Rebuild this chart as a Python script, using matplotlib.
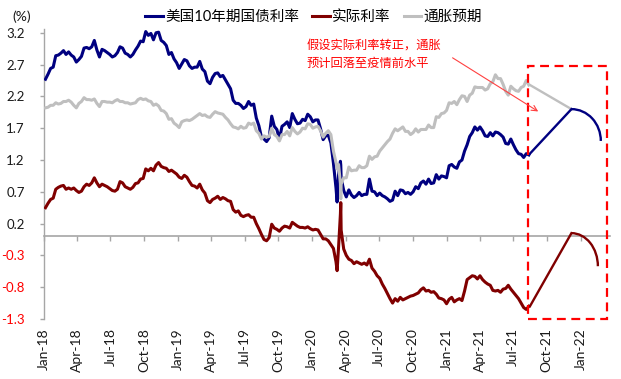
import matplotlib
matplotlib.use('Agg')
import matplotlib.pyplot as plt
import matplotlib.dates as mdates
from matplotlib.patches import Arc, Rectangle
import numpy as np
import pandas as pd

plt.rcParams['font.family'] = ['Lato', 'Noto Sans CJK SC', 'DejaVu Sans']

# ---------------- data ----------------
week_start = '2018-01-05'
week_end = '2021-08-13'

us10y = [
    2.47, 2.55, 2.64, 2.66, 2.84, 2.85, 2.88, 2.92, 2.86, 2.90, 2.85, 2.82, 2.74, 2.78, 2.83, 2.96,
    2.97, 2.95, 2.98, 3.08, 2.93, 2.82, 2.94, 2.92, 2.89, 2.86, 2.82, 2.84, 2.89, 2.98, 2.96, 2.88,
    2.86, 2.82, 2.86, 2.93, 2.99, 3.07, 3.06, 3.22, 3.16, 3.19, 3.09, 3.20, 3.21, 3.08, 3.05, 3.00,
    2.86, 2.89, 2.79, 2.73,
    2.64, 2.71, 2.78, 2.76, 2.68, 2.64, 2.66, 2.66, 2.75, 2.63, 2.59, 2.44, 2.40, 2.50, 2.56, 2.57,
    2.51, 2.53, 2.46, 2.39, 2.32, 2.14, 2.09, 2.09, 2.06, 2.01, 2.04, 2.12, 2.06, 2.08, 1.86, 1.74,
    1.56, 1.53, 1.49, 1.55, 1.89, 1.73, 1.68, 1.53, 1.73, 1.76, 1.80, 1.71, 1.93, 1.84, 1.77, 1.78,
    1.84, 1.82, 1.92, 1.88,
    1.80, 1.83, 1.83, 1.69, 1.52, 1.58, 1.59, 1.47, 1.15, 0.76, 0.96, 0.92, 0.72, 0.62, 0.73, 0.65,
    0.61, 0.64, 0.69, 0.64, 0.66, 0.66, 0.90, 0.71, 0.70, 0.64, 0.68, 0.64, 0.62, 0.59, 0.55, 0.57,
    0.71, 0.64, 0.73, 0.72, 0.67, 0.69, 0.66, 0.70, 0.78, 0.75, 0.84, 0.87, 0.82, 0.90, 0.83, 0.84,
    0.97, 0.90, 0.95, 0.94,
    0.92, 1.11, 1.13, 1.09, 1.07, 1.17, 1.20, 1.34, 1.44, 1.57, 1.63, 1.72, 1.67, 1.72, 1.66, 1.58,
    1.57, 1.63, 1.58, 1.64, 1.63, 1.60, 1.56, 1.46, 1.45, 1.53, 1.44, 1.36, 1.30, 1.29, 1.24, 1.30,
    1.28,
]

real_rate = [
    0.45, 0.52, 0.58, 0.60, 0.74, 0.77, 0.79, 0.80, 0.74, 0.76, 0.74, 0.76, 0.72, 0.69, 0.71, 0.78,
    0.82, 0.80, 0.84, 0.92, 0.84, 0.78, 0.82, 0.80, 0.78, 0.75, 0.72, 0.71, 0.74, 0.86, 0.84, 0.78,
    0.76, 0.74, 0.77, 0.83, 0.84, 0.90, 0.91, 1.06, 1.03, 1.07, 1.03, 1.12, 1.16, 1.10, 1.08, 1.07,
    1.02, 1.04, 1.01, 0.98,
    0.93, 0.91, 0.96, 0.93, 0.86, 0.80, 0.79, 0.76, 0.82, 0.73, 0.68, 0.56, 0.53, 0.58, 0.60, 0.63,
    0.58, 0.61, 0.59, 0.56, 0.55, 0.42, 0.38, 0.40, 0.33, 0.31, 0.33, 0.34, 0.30, 0.30, 0.20, 0.12,
    0.03, -0.05, -0.07, -0.02, 0.19, 0.13, 0.11, 0.08, 0.13, 0.16, 0.15, 0.13, 0.22, 0.19, 0.16, 0.14,
    0.14, 0.13, 0.15, 0.12,
    0.10, 0.11, 0.10, 0.03, -0.04, -0.04, -0.07, -0.13, -0.19, -0.40, -0.17, 0.10, -0.20, -0.30, -0.36, -0.38,
    -0.43, -0.40, -0.42, -0.44, -0.42, -0.45, -0.36, -0.50, -0.55, -0.62, -0.66, -0.75, -0.82, -0.90, -0.98, -1.05,
    -0.98, -1.02, -0.96, -1.00, -0.98, -0.96, -0.94, -0.93, -0.91, -0.89, -0.84, -0.81, -0.86, -0.85, -0.88, -0.87,
    -0.91, -0.97, -0.98, -1.00,
    -1.06, -0.99, -0.96, -1.03, -1.00, -0.98, -1.01, -0.86, -0.68, -0.65, -0.62, -0.63, -0.67, -0.62, -0.68, -0.72,
    -0.75, -0.77, -0.85, -0.86, -0.85, -0.88, -0.83, -0.82, -0.77, -0.83, -0.88, -0.93, -0.98, -1.05, -1.12, -1.15,
    -1.10,
]

breakeven = [
    2.02, 2.03, 2.06, 2.06, 2.10, 2.08, 2.09, 2.12, 2.12, 2.14, 2.11, 2.06, 2.02, 2.09, 2.12, 2.18,
    2.15, 2.15, 2.14, 2.16, 2.09, 2.04, 2.12, 2.12, 2.11, 2.11, 2.10, 2.13, 2.15, 2.12, 2.12, 2.10,
    2.10, 2.08, 2.09, 2.10, 2.15, 2.17, 2.15, 2.16, 2.13, 2.12, 2.06, 2.08, 2.05, 1.98, 1.97, 1.93,
    1.84, 1.85, 1.78, 1.75,
    1.71, 1.80, 1.82, 1.83, 1.82, 1.84, 1.87, 1.90, 1.93, 1.90, 1.91, 1.88, 1.87, 1.92, 1.96, 1.94,
    1.93, 1.92, 1.87, 1.83, 1.77, 1.72, 1.71, 1.69, 1.73, 1.70, 1.71, 1.78, 1.76, 1.78, 1.66, 1.62,
    1.53, 1.58, 1.56, 1.57, 1.70, 1.60, 1.57, 1.50, 1.60, 1.60, 1.65, 1.58, 1.71, 1.65, 1.61, 1.64,
    1.70, 1.69, 1.77, 1.76,
    1.70, 1.72, 1.73, 1.66, 1.56, 1.62, 1.66, 1.60, 1.34, 1.16, 1.13, 0.82, 0.92, 0.92, 1.09, 1.03,
    1.04, 1.04, 1.11, 1.08, 1.08, 1.11, 1.26, 1.21, 1.25, 1.26, 1.34, 1.39, 1.44, 1.49, 1.53, 1.62,
    1.69, 1.66, 1.69, 1.72, 1.65, 1.65, 1.60, 1.63, 1.69, 1.64, 1.68, 1.68, 1.68, 1.75, 1.71, 1.71,
    1.88, 1.87, 1.93, 1.94,
    1.98, 2.10, 2.09, 2.12, 2.07, 2.15, 2.21, 2.20, 2.12, 2.22, 2.25, 2.35, 2.34, 2.34, 2.34, 2.30,
    2.32, 2.40, 2.43, 2.54, 2.48, 2.48, 2.39, 2.28, 2.22, 2.36, 2.32, 2.29, 2.28, 2.34, 2.36, 2.45,
    2.38,
]

# extra daily observations during the March 2020 turmoil
mar2020_dates = ['2020-03-09', '2020-03-18', '2020-03-19']
us10y_mar2020 = [0.54, 1.18, 1.12]
real_mar2020 = [-0.54, 0.35, 0.53]
be_mar2020 = [1.06, 0.83, 0.59]

# scenario (projection) values
proj_dates = ['2021-08-16', '2021-12-07']
us10y_proj = [1.30, 2.00]
real_proj = [-1.10, 0.05]
be_proj = [2.38, 2.00]
us10y_arc_end = ('2022-02-25', 1.50)
real_arc_end = ('2022-02-17', -0.47)

yticks = [-1.3, -0.8, -0.3, 0.2, 0.7, 1.2, 1.7, 2.2, 2.7, 3.2]
xtick_dates = pd.date_range('2018-01-01', '2022-01-01', freq='3MS')

labels = ['美国10年期国债利率', '实际利率', '通胀预期']
colors = ['#000080', '#800000', '#BFBFBF']
note = '假设实际利率转正，通胀\n预计回落至疫情前水平'

# ---------------- build series ----------------
weeks = pd.date_range(week_start, week_end, freq='W-FRI')
mar_idx = pd.to_datetime(mar2020_dates)


def build(vals, extra):
    s = pd.Series(vals, index=weeks)
    s = pd.concat([s, pd.Series(extra, index=mar_idx)]).sort_index()
    return s


s_us = build(us10y, us10y_mar2020)
s_real = build(real_rate, real_mar2020)
s_be = build(breakeven, be_mar2020)

# ---------------- figure ----------------
fig = plt.figure(figsize=(6.21, 3.79), dpi=100)
ax = fig.add_axes([44 / 621, 1 - 319 / 379, (610 - 44) / 621, (319 - 29) / 379])

axis_gray = '#A6A6A6'
lw = 2.2
l1, = ax.plot(s_us.index, s_us.values, color=colors[0], lw=lw, label=labels[0], zorder=3)
l2, = ax.plot(s_real.index, s_real.values, color=colors[1], lw=lw, label=labels[1], zorder=3)
l3, = ax.plot(s_be.index, s_be.values, color=colors[2], lw=lw, label=labels[2], zorder=4)

pd_dates = pd.to_datetime(proj_dates)
plw = 1.7
ax.plot(pd_dates, be_proj, color=colors[2], lw=plw, zorder=3)
ax.plot(pd_dates, us10y_proj, color=colors[0], lw=plw, zorder=3)
ax.plot(pd_dates, real_proj, color=colors[1], lw=plw, zorder=3)


def add_arc(peak_date, peak_val, end, color):
    px = mdates.date2num(pd.Timestamp(peak_date))
    ex = mdates.date2num(pd.Timestamp(end[0]))
    arc = Arc((px, end[1]), 2 * (ex - px), 2 * (peak_val - end[1]), theta1=0, theta2=90,
              color=color, lw=plw, zorder=3)
    ax.add_patch(arc)


add_arc(proj_dates[1], us10y_proj[1], us10y_arc_end, colors[0])
add_arc(proj_dates[1], real_proj[1], real_arc_end, colors[1])

# limits
x0 = mdates.date2num(pd.Timestamp('2018-01-01'))
x1 = mdates.date2num(pd.Timestamp('2022-03-22'))
ax.set_xlim(x0, x1)
ax.set_ylim(-1.3, 3.26)

# dashed scenario box
bx0 = mdates.date2num(pd.Timestamp('2021-08-10'))
bx1 = mdates.date2num(pd.Timestamp('2022-03-13'))
rect = Rectangle((bx0, -1.3), bx1 - bx0, 2.68 + 1.3, fill=False, edgecolor='#FF0000',
                 lw=1.6, ls=(0, (4, 2.5)), zorder=5, clip_on=False)
ax.add_patch(rect)

# annotation
ax.text(mdates.date2num(pd.Timestamp('2019-12-17')), 2.87, note, color='#FF0000',
        fontsize=8.8, va='center', ha='left', linespacing=1.75, zorder=6)
ax.annotate('', xy=(mdates.date2num(pd.Timestamp('2021-09-14')), 1.94),
            xytext=(mdates.date2num(pd.Timestamp('2021-01-11')), 2.83),
            arrowprops=dict(arrowstyle='->', color='#FF4040', lw=0.8), zorder=6)

# spines
for sp in ['top', 'right', 'bottom']:
    ax.spines[sp].set_visible(False)
ax.spines['left'].set_color(axis_gray)
ax.spines['left'].set_linewidth(1.0)

ax.set_yticks(yticks)
ax.set_yticklabels([f'{v:.1f}' for v in yticks])
ax.tick_params(axis='y', direction='out', length=3, width=1.0, color=axis_gray,
               pad=11, labelsize=9.5)
for lab, v in zip(ax.get_yticklabels(), yticks):
    lab.set_color('#FF0000' if v < 0 else '#1A1A1A')

ax.set_xticks(mdates.date2num(xtick_dates))
ax.set_xticklabels([d.strftime('%b-%y') for d in xtick_dates], rotation=90)
ax.tick_params(axis='x', length=0, pad=6.5, labelsize=10, labelcolor='#1A1A1A')

# zero line with tick marks
zero_frac = (0 - (-1.3)) / (3.26 - (-1.3))
sec = ax.secondary_xaxis(zero_frac)
sec.set_xticks(mdates.date2num(xtick_dates))
sec.set_xticklabels([])
sec.tick_params(axis='x', direction='out', length=3.8, width=1.0, color=axis_gray)
sec.spines['bottom'].set_color(axis_gray)
sec.spines['bottom'].set_linewidth(1.2)
for sp in ['top', 'left', 'right']:
    sec.spines[sp].set_visible(False)

# legend
fig.legend(handles=[l1, l2, l3], labels=labels, loc='center', bbox_to_anchor=(0.505, 1 - 17 / 379),
           ncol=3, frameon=False, fontsize=10.5, handlelength=1.2, handletextpad=0.15,
           columnspacing=0.9)
fig.text(12 / 621, 1 - 17 / 379, '(%)', fontsize=10, va='center', ha='left', color='#1A1A1A')

fig.savefig('out.png', dpi=100)
